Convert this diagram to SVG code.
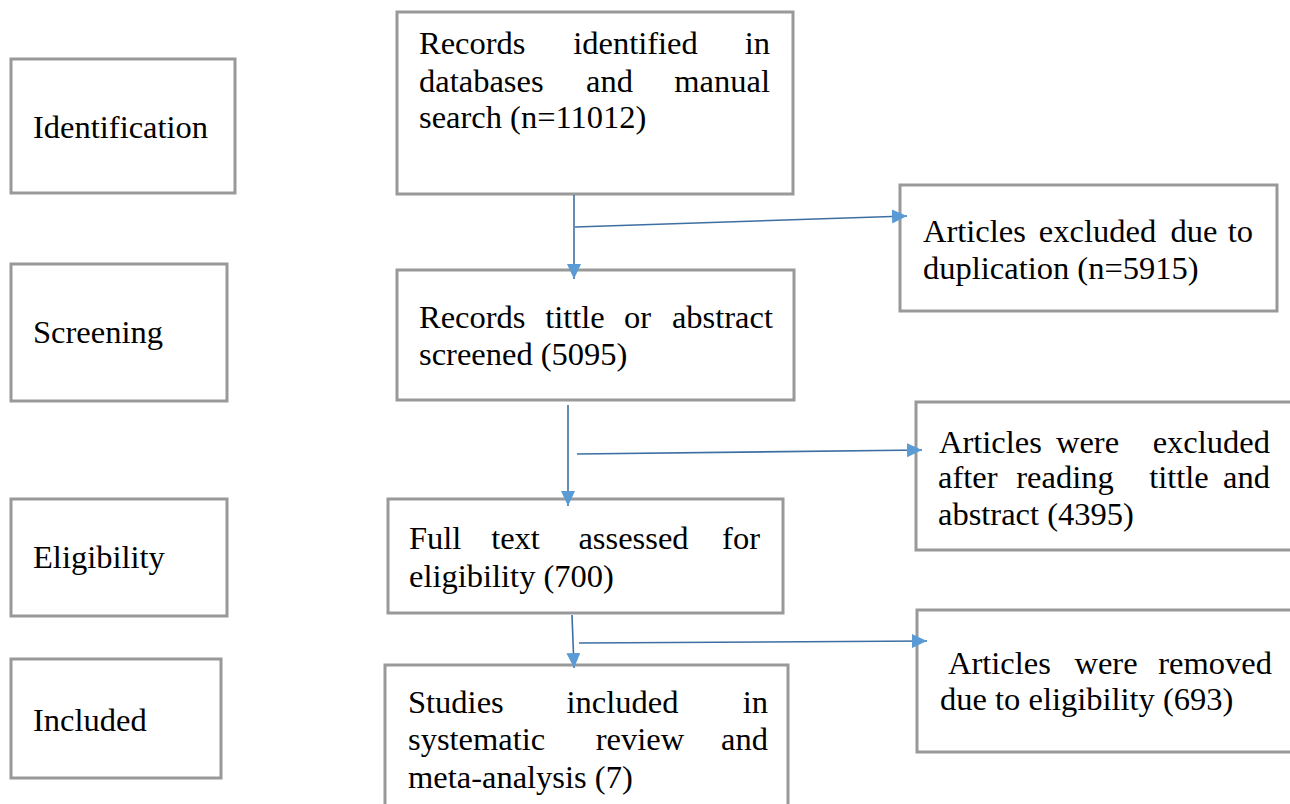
<svg xmlns="http://www.w3.org/2000/svg" width="1290" height="804" viewBox="0 0 1290 804">
<style>
.box{fill:#fff;stroke:#999;stroke-width:3}
.t{font-family:"Liberation Serif","Times New Roman",serif;font-size:32.5px;fill:#000}
.m{text-anchor:middle}
.e{text-anchor:end}
.c{fill:none;stroke:#3d6fa3;stroke-width:1.6}
</style>
<defs>
<marker id="ah" markerUnits="userSpaceOnUse" markerWidth="16" markerHeight="15" refX="15" refY="7" orient="auto">
<path d="M0,0 L15,7 L0,14 Z" fill="#5b9bd5"/>
</marker>
</defs>
<rect width="1290" height="804" fill="#fff"/>

<g id="identification">
<rect class="box" x="11" y="59" width="224" height="134"/>
<text class="t" x="33" y="138">Identification</text>
</g>
<g id="screening">
<rect class="box" x="11" y="264" width="216" height="137"/>
<text class="t" x="33" y="343">Screening</text>
</g>
<g id="eligibility">
<rect class="box" x="11" y="499" width="216" height="117"/>
<text class="t" x="33" y="568">Eligibility</text>
</g>
<g id="included">
<rect class="box" x="11" y="659" width="210" height="119"/>
<text class="t" x="33" y="731">Included</text>
</g>

<g id="records-identified">
<rect class="box" x="397" y="12" width="396" height="182"/>
<text class="t" y="54"><tspan x="419">Records</tspan><tspan x="635.5" class="m">identified</tspan><tspan x="770" class="e">in</tspan></text>
<text class="t" y="92"><tspan x="419">databases</tspan><tspan x="609.5" class="m">and</tspan><tspan x="770" class="e">manual</tspan></text>
<text class="t" x="419" y="128">search (n=11012)</text>
</g>
<g id="records-screened">
<rect class="box" x="397" y="270" width="397" height="130"/>
<text class="t" y="328"><tspan x="419">Records</tspan><tspan x="575" class="m">tittle</tspan><tspan x="637.5" class="m">or</tspan><tspan x="773" class="e">abstract</tspan></text>
<text class="t" x="419" y="365">screened (5095)</text>
</g>
<g id="full-text">
<rect class="box" x="388" y="499" width="395" height="114"/>
<text class="t" y="549"><tspan x="409">Full</tspan><tspan x="515.5" class="m">text</tspan><tspan x="633.5" class="m">assessed</tspan><tspan x="760" class="e">for</tspan></text>
<text class="t" x="409" y="587">eligibility (700)</text>
</g>
<g id="studies-included">
<rect class="box" x="385" y="665" width="403" height="150"/>
<text class="t" y="713"><tspan x="408">Studies</tspan><tspan x="622.5" class="m">included</tspan><tspan x="768" class="e">in</tspan></text>
<text class="t" y="750"><tspan x="408">systematic</tspan><tspan x="640" class="m">review</tspan><tspan x="768" class="e">and</tspan></text>
<text class="t" x="408" y="788">meta-analysis (7)</text>
</g>

<g id="excluded-duplication">
<rect class="box" x="900" y="185" width="377" height="126"/>
<text class="t" y="242"><tspan x="923">Articles</tspan><tspan x="1097.5" class="m">excluded</tspan><tspan x="1194" class="m">due</tspan><tspan x="1253" class="e">to</tspan></text>
<text class="t" x="923" y="279">duplication (n=5915)</text>
</g>
<g id="excluded-title-abstract">
<rect class="box" x="916" y="402" width="390" height="148"/>
<text class="t" y="453"><tspan x="939">Articles</tspan><tspan x="1087.5" class="m">were</tspan><tspan x="1270" class="e">excluded</tspan></text>
<text class="t" y="488"><tspan x="938">after</tspan><tspan x="1065" class="m">reading</tspan><tspan x="1179" class="m">tittle</tspan><tspan x="1270" class="e">and</tspan></text>
<text class="t" x="938" y="525">abstract (4395)</text>
</g>
<g id="removed-eligibility">
<rect class="box" x="917" y="610" width="390" height="142"/>
<text class="t" y="674"><tspan x="948">Articles</tspan><tspan x="1106" class="m">were</tspan><tspan x="1272" class="e">removed</tspan></text>
<text class="t" x="940" y="710">due to eligibility (693)</text>
</g>

<g id="connectors">
<line class="c" x1="574" y1="195" x2="574" y2="279" marker-end="url(#ah)"/>
<line class="c" x1="575" y1="227" x2="907" y2="216" marker-end="url(#ah)"/>
<line class="c" x1="568" y1="405" x2="568" y2="506" marker-end="url(#ah)"/>
<line class="c" x1="577" y1="454" x2="922" y2="450" marker-end="url(#ah)"/>
<line class="c" x1="572" y1="615" x2="574" y2="668" marker-end="url(#ah)"/>
<line class="c" x1="579" y1="643" x2="927" y2="641" marker-end="url(#ah)"/>
</g>
</svg>
